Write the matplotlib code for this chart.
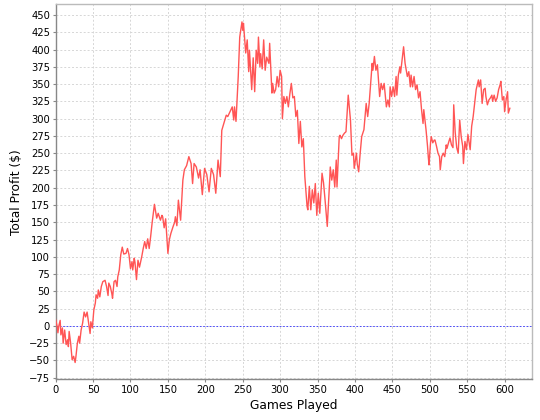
import matplotlib
matplotlib.use("Agg")
import matplotlib.pyplot as plt

games = [0, 2, 3, 4, 6, 7, 9, 10, 12, 14, 16, 17, 18, 20, 22, 24, 26, 27, 29, 31,
         32, 34, 36, 38, 40, 42, 44, 46, 47, 49, 51, 53, 54, 56, 57, 59, 61, 63, 66, 68,
         70, 71, 73, 75, 76, 78, 80, 82, 83, 85, 87, 89, 91, 94, 96, 98, 100, 102, 103, 105,
         106, 108, 110, 112, 115, 117, 119, 121, 123, 125, 127, 129, 132, 135, 137, 140, 142, 143, 145, 147,
         150, 152, 154, 157, 159, 160, 162, 164, 167, 170, 172, 175, 178, 181, 183, 185, 188, 191, 193, 196,
         199, 202, 205, 208, 211, 214, 217, 220, 222, 226, 228, 230, 233, 236, 238, 239, 241, 244, 246, 249,
         250, 251, 254, 256, 258, 259, 262, 264, 266, 268, 270, 271, 273, 274, 276, 278, 280, 282, 285, 286,
         289, 290, 292, 294, 296, 298, 300, 302, 303, 305, 307, 309, 311, 313, 315, 317, 319, 321, 323, 325,
         327, 329, 331, 333, 336, 337, 339, 341, 343, 345, 347, 349, 351, 353, 356, 358, 360, 363, 366, 367,
         369, 371, 373, 375, 376, 379, 380, 382, 384, 386, 388, 391, 394, 396, 398, 399, 402, 403, 405, 407,
         409, 412, 415, 417, 419, 421, 423, 424, 426, 428, 430, 433, 435, 437, 439, 442, 444, 446, 447, 449,
         451, 453, 455, 456, 458, 460, 461, 463, 465, 467, 470, 472, 474, 475, 477, 479, 481, 483, 485, 487,
         489, 491, 492, 495, 497, 498, 499, 501, 502, 504, 506, 507, 509, 511, 513, 514, 516, 518, 520, 522,
         523, 525, 527, 529, 531, 532, 534, 536, 538, 540, 542, 544, 545, 547, 549, 551, 554, 556, 558, 560,
         562, 565, 566, 568, 570, 572, 574, 575, 577, 579, 581, 583, 584, 586, 588, 590, 592, 594, 595, 597,
         599, 600, 602, 604, 605, 607]

profit = [9, -1, -10, -1, 8, -13, -3, -25, -6, -27, -20, -30, -8, -25, -49, -44, -53, -45, -25, -15,
          -25, -6, 4, 20, 13, 20, 4, -11, 6, -3, 23, 33, 45, 40, 52, 42, 57, 64, 66, 57,
          44, 62, 57, 47, 40, 64, 66, 57, 71, 81, 103, 114, 104, 105, 112, 103, 83, 93, 81, 98,
          92, 67, 95, 85, 100, 112, 122, 112, 126, 112, 130, 150, 176, 156, 163, 153, 160, 158, 142, 155,
          105, 125, 134, 144, 150, 158, 145, 182, 153, 211, 226, 232, 245, 235, 206, 235, 230, 214, 226, 190,
          228, 219, 194, 228, 219, 192, 240, 216, 283, 298, 305, 303, 310, 317, 298, 317, 296, 361, 418, 440,
          428, 438, 395, 414, 368, 399, 342, 388, 339, 399, 380, 418, 375, 394, 372, 414, 370, 389, 380, 409,
          337, 351, 337, 342, 361, 346, 370, 361, 300, 332, 322, 332, 317, 336, 351, 330, 332, 303, 312, 264,
          296, 259, 271, 216, 173, 168, 202, 168, 197, 178, 206, 160, 192, 163, 221, 207, 183, 144, 206, 230,
          211, 226, 201, 240, 201, 274, 276, 271, 276, 279, 281, 334, 298, 247, 250, 228, 250, 235, 223, 250,
          274, 284, 322, 303, 322, 351, 380, 370, 390, 370, 378, 332, 351, 342, 351, 317, 327, 317, 346, 332,
          346, 332, 361, 334, 363, 375, 366, 385, 404, 380, 361, 368, 346, 363, 346, 361, 342, 349, 330, 339,
          313, 293, 313, 284, 260, 245, 233, 265, 274, 265, 269, 269, 260, 250, 245, 226, 245, 250, 245, 262,
          257, 265, 272, 262, 258, 320, 280, 258, 250, 298, 274, 260, 235, 267, 255, 277, 255, 289, 303, 322,
          342, 356, 346, 356, 322, 342, 344, 332, 320, 327, 330, 334, 325, 334, 325, 330, 342, 349, 354, 327,
          332, 310, 327, 339, 308, 315]

x_ticks = list(range(0, 601, 50))
y_ticks = list(range(-75, 451, 25))

plt.rcParams['font.family'] = ['DejaVu Sans']
fig = plt.figure(figsize=(5.4, 4.2), dpi=100)
ax = fig.add_axes([0.1031, 0.0969, 0.8826, 0.8929])

ax.plot(games, profit, color='#ff5555', linewidth=1.0, zorder=3)
ax.axhline(0, color='#3333ff', linewidth=0.6, linestyle=(0, (2, 2)), zorder=2)

ax.set_xlim(0, 637)
ax.set_ylim(-77.3, 465.5)
ax.set_xticks(x_ticks)
ax.set_yticks(y_ticks)
ax.tick_params(axis='both', labelsize=7.2, length=2, width=0.8, color='#888888', pad=2)
ax.grid(True, color='#d6d6d6', linestyle=(0, (2, 2)), linewidth=0.7)
ax.set_axisbelow(True)

for side in ['left', 'bottom']:
    ax.spines[side].set_color('#888888')
    ax.spines[side].set_linewidth(1.0)
for side in ['top', 'right']:
    ax.spines[side].set_color('#bbbbbb')
    ax.spines[side].set_linewidth(1.0)

ax.set_xlabel('Games Played', fontsize=8.8, labelpad=3)
ax.set_ylabel('Total Profit ($)', fontsize=8.8, labelpad=4)

fig.savefig('out.png', dpi=100)
